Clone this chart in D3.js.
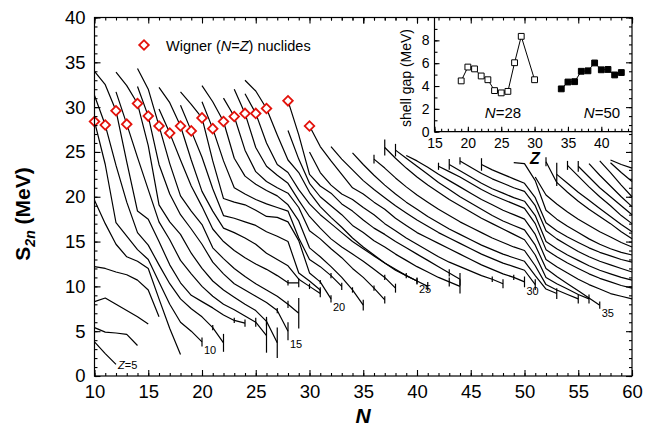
<!DOCTYPE html>
<html><head><meta charset="utf-8">
<script src="https://cdn.jsdelivr.net/npm/d3@7"></script>
<style>
body{margin:0;background:#fff}
svg{display:block}
text{font-family:"Liberation Sans",Arial,Helvetica,sans-serif;fill:#000}
</style></head>
<body><svg id="c" width="657" height="433"></svg>
<script>
// ---------- DATA ----------
// isotopic chains: proton number, first neutron number, S2n values (MeV) for consecutive N
const chainZ      = [5,6,7,8,9,10,11,12,13,14,15,16,17,18,19,20,21,22,23,24,25,26,27,28,29,30,31,32,33,34,35,36,37,38,39,40,41,42,43,44,45,46,47,48,49,50];
const chainStartN = [10,10,10,10,10,10,10,10,12,12,14,14,16,16,18,18,20,20,22,23,24,24,28,28,30,30,32,34,36,37,38,39,42,43,44,46,49,51,52,53,54,55,56,57,58,58];
const S2N_Z05=[3.8,2.5,1.3];
const S2N_Z06=[5.4,4.9,4.8,4.65,3.4];
const S2N_Z07=[8.3,8.7,8.0,7.3,6.6,5.8];
const S2N_Z08=[12.2,12.0,11.6,11.3,10.7,9.6,6.6];
const S2N_Z09=[19.6,17.0,14.7,13.3,12.8,12.0,8.6,5.3,2.4];
const S2N_Z10=[28.4,23.6,17.1,15.6,14.1,13.0,10.5,8.0,6.0,5.0,3.8];
const S2N_Z11=[31.3,28.0,23.5,19.4,16.0,14.6,12.4,10.3,8.6,7.5,6.6,5.4,3.7];
const S2N_Z12=[34.0,32.5,29.6,23.9,18.4,17.5,15.0,12.4,10.4,9.0,8.3,7.6,6.8,6.2,5.9];
const S2N_Z13=[31.7,28.1,24.4,20.8,17.2,15.2,12.9,11.4,10.0,8.9,8.0,7.4,6.7,6.0,4.5];
const S2N_Z14=[33.9,32.4,30.4,25.7,19.1,17.2,15.8,13.7,12.0,10.6,9.6,8.8,8.0,7.3,6.1,3.7];
const S2N_Z15=[32.3,29.0,23.6,20.3,18.0,16.4,14.7,12.7,11.4,10.3,9.6,8.9,8.2,7.3,5.0];
const S2N_Z16=[34.3,32.0,27.9,23.7,20.1,18.4,16.9,14.3,13.1,12.0,11.1,10.3,9.6,8.9,8.0,7.0];
const S2N_Z17=[29.8,27.1,24.1,21.2,18.9,16.4,15.0,14.0,13.2,12.5,11.9,11.2,10.4,10.4];
const S2N_Z18=[32.2,30.5,27.9,24.1,20.6,18.4,16.5,16.0,15.4,14.7,13.7,13.0,12.3,10.8,10.0,9.2];
const S2N_Z19=[30.2,27.35,24.4,20.9,17.9,17.6,17.2,16.8,16.1,15.6,15.0,11.5,10.6,9.6];
const S2N_Z20=[31.7,30.3,28.8,24.0,19.8,19.4,19.1,18.5,17.8,17.7,17.2,15.1,11.5,10.5,8.6];
const S2N_Z21=[30.6,27.6,24.0,21.0,20.3,19.7,19.2,18.8,18.4,15.4,13.0,12.2,11.2,10.0];
const S2N_Z22=[32.4,30.6,28.4,24.3,22.3,21.4,20.7,20.1,19.1,17.3,14.3,13.3,12.2,11.0,9.6,7.9];
const S2N_Z23=[31.0,28.95,25.2,22.8,21.7,21.0,20.4,18.8,16.2,15.3,14.2,13.2,12.0,11.0,9.8,8.5];
const S2N_Z24=[32.0,29.3,25.5,23.4,22.4,21.5,19.6,17.8,16.5,15.3,14.4,13.6,12.8,11.9,11.0,9.8];
const S2N_Z25=[31.5,29.3,26.0,23.6,22.7,20.8,19.2,18.0,17.0,16.0,15.0,14.2,13.4,12.6,11.8,11.2,10.6];
const S2N_Z26=[33.0,31.8,29.85,26.9,24.1,22.7,20.5,18.9,17.7,16.6,15.4,14.4,13.5,12.6,11.9,11.2,10.6,10.0];
const S2N_Z27=[27.4,24.2,21.5,20.0,19.0,18.0,16.8,16.0,15.1,14.4,13.6,12.9,12.2,11.6,11.0,10.5,10.0];
const S2N_Z28=[30.7,26.9,22.5,21.2,20.4,19.2,18.4,17.4,16.5,15.8,15.0,14.3,13.6,12.9,12.2,11.5,10.8];
const S2N_Z29=[25.0,22.7,21.3,20.3,19.7,18.8,18.0,17.0,16.2,15.4,14.7,14.0,13.3,12.7,12.2,11.7,11.2,10.8,10.3];
const S2N_Z30=[27.9,25.6,24.0,22.5,21.0,20.3,19.4,18.6,17.6,16.8,16.0,15.4,14.8,14.2,13.6,13.0,12.4,11.9,11.4,11.0,10.5];
const S2N_Z31=[25.6,24.2,23.0,21.8,20.8,19.9,19.0,18.2,17.4,16.7,16.0,15.4,14.8,14.2,13.6,13.1,12.6,12.2,11.8,10.2];
const S2N_Z32=[24.9,23.6,22.4,21.3,20.3,19.4,18.6,17.8,17.1,16.4,15.8,15.2,14.6,14.1,13.6,13.2,12.8,11.2,9.7,9.2];
const S2N_Z33=[24.2,23.2,22.1,21.1,20.2,19.4,18.6,17.9,17.2,16.6,16.0,15.4,14.9,14.4,14.0,12.3,10.2,9.6,9.1,8.6];
const S2N_Z34=[25.5,24.3,23.2,22.2,21.3,20.5,19.7,19.0,18.3,17.6,17.0,16.4,15.8,15.2,13.5,11.0,10.3,9.7,9.1,8.6];
const S2N_Z35=[25.2,24.3,23.4,22.5,21.6,20.8,20.0,19.3,18.6,17.9,17.3,16.8,16.3,14.6,12.0,11.1,10.3,9.5,8.7,7.9];
const S2N_Z36=[24.6,24.0,23.3,22.5,21.8,21.1,20.4,19.7,19.1,18.5,18.0,17.5,15.8,13.0,12.2,11.5,10.8,10.2,9.7,9.2,8.9,8.6];
const S2N_Z37=[23.4,22.8,22.2,21.5,20.8,20.2,19.7,19.2,18.7,17.0,14.1,13.3,12.6,12.0,11.4,10.9,10.5,10.1,9.8];
const S2N_Z38=[23.6,22.9,22.2,21.5,20.9,20.4,19.9,19.5,17.9,15.0,14.2,13.5,12.9,12.3,11.8,11.4,11.0,10.7];
const S2N_Z39=[24.0,23.3,22.6,22.0,21.5,21.0,20.6,19.0,16.2,15.3,14.6,13.9,13.3,12.8,12.4,12.0,11.6];
const S2N_Z40=[23.6,23.0,22.5,22.0,21.5,19.9,17.1,16.2,15.5,14.9,14.3,13.8,13.4,13.0,12.7];
const S2N_Z41=[23.8,23.7,21.8,18.5,17.5,16.7,16.0,15.3,14.7,14.2,13.8,13.5];
const S2N_Z42=[22.2,20.2,19.2,18.3,17.5,16.8,16.1,15.5,14.9,14.4];
const S2N_Z43=[23.9,21.6,20.5,19.5,18.6,17.8,17.0,16.1,15.3];
const S2N_Z44=[22.5,21.5,20.5,19.6,18.7,17.8,16.9,16.1];
const S2N_Z45=[23.5,22.3,21.1,20.0,19.0,17.9,17.0];
const S2N_Z46=[23.4,22.2,21.0,20.0,19.0,18.0];
const S2N_Z47=[23.7,22.4,21.2,20.0,18.9];
const S2N_Z48=[24.0,22.7,21.3,20.0];
const S2N_Z49=[23.8,22.7,21.7];
const S2N_Z50=[24.1,23.6,23.2];
const chainS2n=[S2N_Z05,S2N_Z06,S2N_Z07,S2N_Z08,S2N_Z09,S2N_Z10,S2N_Z11,S2N_Z12,S2N_Z13,S2N_Z14,S2N_Z15,S2N_Z16,S2N_Z17,S2N_Z18,S2N_Z19,S2N_Z20,S2N_Z21,S2N_Z22,S2N_Z23,S2N_Z24,S2N_Z25,S2N_Z26,S2N_Z27,S2N_Z28,S2N_Z29,S2N_Z30,S2N_Z31,S2N_Z32,S2N_Z33,S2N_Z34,S2N_Z35,S2N_Z36,S2N_Z37,S2N_Z38,S2N_Z39,S2N_Z40,S2N_Z41,S2N_Z42,S2N_Z43,S2N_Z44,S2N_Z45,S2N_Z46,S2N_Z47,S2N_Z48,S2N_Z49,S2N_Z50];

// error bars: [Z, N, half-height MeV]
const errorBars=[[10,20,0.5],[11,22,1.0],[11,21,0.3],[12,24,0.4],[12,23,0.3],[13,26,1.9],[13,25,0.5],[14,27,1.7],[14,26,0.5],
 [15,28,1.0],[15,27,0.3],[16,29,1.7],[16,28,0.4],[17,29,0.5],[17,28,0.3],[18,31,0.4],[18,30,0.3],[19,31,0.3],[20,32,0.4],[20,31,0.2],
 [21,33,0.4],[21,32,0.3],[22,35,0.6],[22,34,0.3],[23,37,0.4],[23,36,0.3],[24,38,0.5],[24,37,0.3],[25,40,0.4],[25,39,0.3],[26,41,0.5],[26,40,0.3],
 [27,44,0.8],[27,43,0.5],[28,44,0.7],[28,43,0.4],[29,48,0.5],[29,47,0.3],[30,50,0.6],[30,49,0.3],[31,51,0.6],[32,53,0.6],[33,55,0.5],[34,56,0.5],[35,57,0.4],
 [33,36,0.5],[34,37,0.9],[35,38,0.7],[37,42,0.4],[38,43,0.6],[39,44,0.4],[40,46,0.7],[43,52,0.5],[44,53,1.3],[45,54,0.5],[46,55,0.6]];

// Wigner N=Z nuclides (value taken from the chain at N=Z)
const wignerZ=[10,11,12,13,14,15,16,17,18,19,20,21,22,23,24,25,26,28,30];

// chain labels
const labelZ=[5,10,15,20,25,30,35];

// inset: shell gap
const gap28Z=[19,20,21,22,23,24,25,26,27,28,30];
const gap28 =[4.45,5.66,5.5,4.88,4.55,3.6,3.4,3.53,6.04,8.35,4.55];
const gap50Z=[34,35,36,37,38,39,40,41,42,43];
const gap50 =[3.75,4.35,4.38,5.29,5.33,6.02,5.42,5.45,4.97,5.18];

const xTicks=[10,15,20,25,30,35,40,45,50,55,60];
const yTicks=[0,5,10,15,20,25,30,35,40];
const insetXTicks=[15,20,25,30,35,40];
const insetYTicks=[0,2,4,6,8];

// ---------- DRAW ----------
const svg=d3.select('#c');
const L=94.5,R=632,T=17.5,B=376;
const x=d3.scaleLinear().domain([10,60]).range([L,R]);
const y=d3.scaleLinear().domain([0,40]).range([B,T]);

const chains=chainZ.map((z,i)=>({z,pts:chainS2n[i].map((s,j)=>[chainStartN[i]+j,s])}));
const valAt=(z,n)=>{const c=chains.find(c=>c.z===z);const p=c.pts.find(p=>p[0]===n);return p?p[1]:null;};

const line=d3.line().x(d=>x(d[0])).y(d=>y(d[1]));
const gChains=svg.append('g');
gChains.selectAll('path').data(chains).join('path')
  .attr('d',d=>line(d.pts)).attr('fill','none').attr('stroke','#000')
  .attr('stroke-width',1.2).attr('stroke-linejoin','round');

gChains.selectAll('line.err').data(errorBars).join('line').attr('class','err')
  .attr('x1',d=>x(d[1])).attr('x2',d=>x(d[1]))
  .attr('y1',d=>y(valAt(d[0],d[1])+d[2])).attr('y2',d=>y(valAt(d[0],d[1])-d[2]))
  .attr('stroke','#000').attr('stroke-width',1.2);

// chain labels
const gLab=svg.append('g').attr('font-size',11).attr('fill','#222');
labelZ.forEach(z=>{
  const c=chains.find(c=>c.z===z); const last=c.pts[c.pts.length-1];
  const eb=errorBars.find(e=>e[0]===z&&e[1]===last[0]);
  const lo=last[1]-(eb?eb[2]:0);
  const t=gLab.append('text').attr('x',x(last[0])+2).attr('y',y(lo)+(z===5?5:8)).attr('fill','#222');
  if(z===5){t.append('tspan').attr('font-style','italic').text('Z');t.append('tspan').text('=5');}
  else t.text(z);
});

// wigner diamonds
const sq=d3.symbol().type(d3.symbolSquare).size(46);
svg.append('g').selectAll('path').data(wignerZ).join('path')
  .attr('d',sq).attr('transform',z=>`translate(${x(z)},${y(valAt(z,z))}) rotate(45)`)
  .attr('fill','#fff').attr('stroke','#e3120b').attr('stroke-width',1.8);

// legend
svg.append('path').attr('d',sq).attr('transform','translate(144,45) rotate(45)')
  .attr('fill','#fff').attr('stroke','#e3120b').attr('stroke-width',1.8);
const lt=svg.append('text').attr('x',166).attr('y',50.5).attr('font-size',14.5);
lt.append('tspan').text('Wigner (');lt.append('tspan').attr('font-style','italic').text('N');
lt.append('tspan').text('=');lt.append('tspan').attr('font-style','italic').text('Z');
lt.append('tspan').text(') nuclides');

// main axes
function styleAxis(g){g.selectAll('line').attr('stroke','#000').attr('stroke-width',1.1);g.select('.domain').remove();}
svg.append('g').attr('transform',`translate(0,${B})`)
  .call(d3.axisBottom(x).tickValues(d3.range(10,61,1)).tickSize(-3).tickFormat('')).call(styleAxis);
svg.append('g').attr('transform',`translate(0,${B})`)
  .call(d3.axisBottom(x).tickValues(xTicks).tickSize(-6).tickPadding(9)).call(styleAxis)
  .selectAll('text').attr('font-size',18.5).attr('font-family','Liberation Sans, Arial, sans-serif');
svg.append('g').attr('transform',`translate(0,${T})`)
  .call(d3.axisTop(x).tickValues(d3.range(10,61,1)).tickSize(-3).tickFormat('')).call(styleAxis);
svg.append('g').attr('transform',`translate(0,${T})`)
  .call(d3.axisTop(x).tickValues(xTicks).tickSize(-6).tickFormat('')).call(styleAxis);
svg.append('g').attr('transform',`translate(${L},0)`)
  .call(d3.axisLeft(y).tickValues(d3.range(0,41,1)).tickSize(-3).tickFormat('')).call(styleAxis);
svg.append('g').attr('transform',`translate(${L},0)`)
  .call(d3.axisLeft(y).tickValues(yTicks).tickSize(-6).tickPadding(9)).call(styleAxis)
  .selectAll('text').attr('font-size',18.5).attr('font-family','Liberation Sans, Arial, sans-serif');
svg.append('g').attr('transform',`translate(${R},0)`)
  .call(d3.axisRight(y).tickValues(d3.range(0,41,1)).tickSize(-3).tickFormat('')).call(styleAxis);
svg.append('g').attr('transform',`translate(${R},0)`)
  .call(d3.axisRight(y).tickValues(yTicks).tickSize(-6).tickFormat('')).call(styleAxis);

// inset
const IL=434.5, IB=131.7;
const xi=d3.scaleLinear().domain([15,44.6]).range([IL,R]);
const yi=d3.scaleLinear().domain([0,10]).range([IB,T]);
svg.append('rect').attr('x',IL).attr('y',T).attr('width',R-IL).attr('height',IB-T).attr('fill','#fff');
svg.append('g').attr('transform',`translate(0,${IB})`)
  .call(d3.axisBottom(xi).tickValues(d3.range(15,45,1)).tickSize(-3).tickFormat('')).call(styleAxis);
svg.append('g').attr('transform',`translate(0,${IB})`)
  .call(d3.axisBottom(xi).tickValues(insetXTicks).tickSize(-5).tickPadding(6)).call(styleAxis)
  .selectAll('text').attr('font-size',14).attr('font-family','Liberation Sans, Arial, sans-serif');
svg.append('g').attr('transform',`translate(${IL},0)`)
  .call(d3.axisLeft(yi).tickValues(d3.range(0,10,1)).tickSize(-3).tickFormat('')).call(styleAxis);
svg.append('g').attr('transform',`translate(${IL},0)`)
  .call(d3.axisLeft(yi).tickValues(insetYTicks).tickSize(-5).tickPadding(5)).call(styleAxis)
  .selectAll('text').attr('font-size',14).attr('font-family','Liberation Sans, Arial, sans-serif');
// inset frame lines
svg.append('line').attr('x1',IL).attr('x2',IL).attr('y1',T).attr('y2',IB).attr('stroke','#000').attr('stroke-width',1.2);
svg.append('line').attr('x1',IL).attr('x2',R).attr('y1',IB).attr('y2',IB).attr('stroke','#000').attr('stroke-width',1.2);
// main right / top axis ticks again over the inset
svg.append('g').attr('transform',`translate(${R},0)`)
  .call(d3.axisRight(y).tickValues(d3.range(28,41,1)).tickSize(-3).tickFormat('')).call(styleAxis);
svg.append('g').attr('transform',`translate(${R},0)`)
  .call(d3.axisRight(y).tickValues([30,35,40]).tickSize(-6).tickFormat('')).call(styleAxis);
svg.append('g').attr('transform',`translate(0,${T})`)
  .call(d3.axisTop(x).tickValues(d3.range(32,61,1)).tickSize(-3).tickFormat('')).call(styleAxis);
svg.append('g').attr('transform',`translate(0,${T})`)
  .call(d3.axisTop(x).tickValues([35,40,45,50,55,60]).tickSize(-6).tickFormat('')).call(styleAxis);

const lineI=d3.line().x(d=>xi(d[0])).y(d=>yi(d[1]));
const g28=gap28Z.map((z,i)=>[z,gap28[i]]), g50=gap50Z.map((z,i)=>[z,gap50[i]]);
[g28,g50].forEach(dat=>svg.append('path').attr('d',lineI(dat)).attr('fill','none').attr('stroke','#000').attr('stroke-width',1));
const sqI=d3.symbol().type(d3.symbolSquare).size(34);
svg.append('g').selectAll('path').data(g28).join('path').attr('d',sqI)
  .attr('transform',d=>`translate(${xi(d[0])},${yi(d[1])})`).attr('fill','#fff').attr('stroke','#000').attr('stroke-width',1);
svg.append('g').selectAll('path').data(g50).join('path').attr('d',sqI)
  .attr('transform',d=>`translate(${xi(d[0])},${yi(d[1])})`).attr('fill','#000').attr('stroke','#000').attr('stroke-width',1);

const n28=svg.append('text').attr('x',503).attr('y',118).attr('font-size',15).attr('text-anchor','middle');
n28.append('tspan').attr('font-style','italic').text('N');n28.append('tspan').text('=28');
const n50=svg.append('text').attr('x',602).attr('y',118).attr('font-size',15).attr('text-anchor','middle');
n50.append('tspan').attr('font-style','italic').text('N');n50.append('tspan').text('=50');
svg.append('text').attr('x',535).attr('y',164).attr('font-size',16).attr('font-weight','bold').attr('font-style','italic').attr('text-anchor','middle').text('Z');
svg.append('text').attr('transform','translate(411,78) rotate(-90)').attr('font-size',14).attr('text-anchor','middle').text('shell gap (MeV)');

// axis titles
svg.append('text').attr('x',363).attr('y',423).attr('font-size',21).attr('font-weight','bold').attr('font-style','italic').attr('text-anchor','middle').text('N');
const yl=svg.append('text').attr('transform','translate(30,214) rotate(-90)').attr('font-size',21).attr('font-weight','bold').attr('text-anchor','middle');
yl.append('tspan').text('S');
yl.append('tspan').attr('font-size',14).attr('font-style','italic').attr('dy',5).text('2n');
yl.append('tspan').attr('dy',-5).text(' (MeV)');

// main frame
svg.append('rect').attr('x',L).attr('y',T).attr('width',R-L).attr('height',B-T).attr('fill','none').attr('stroke','#000').attr('stroke-width',1.2);
</script></body></html>
